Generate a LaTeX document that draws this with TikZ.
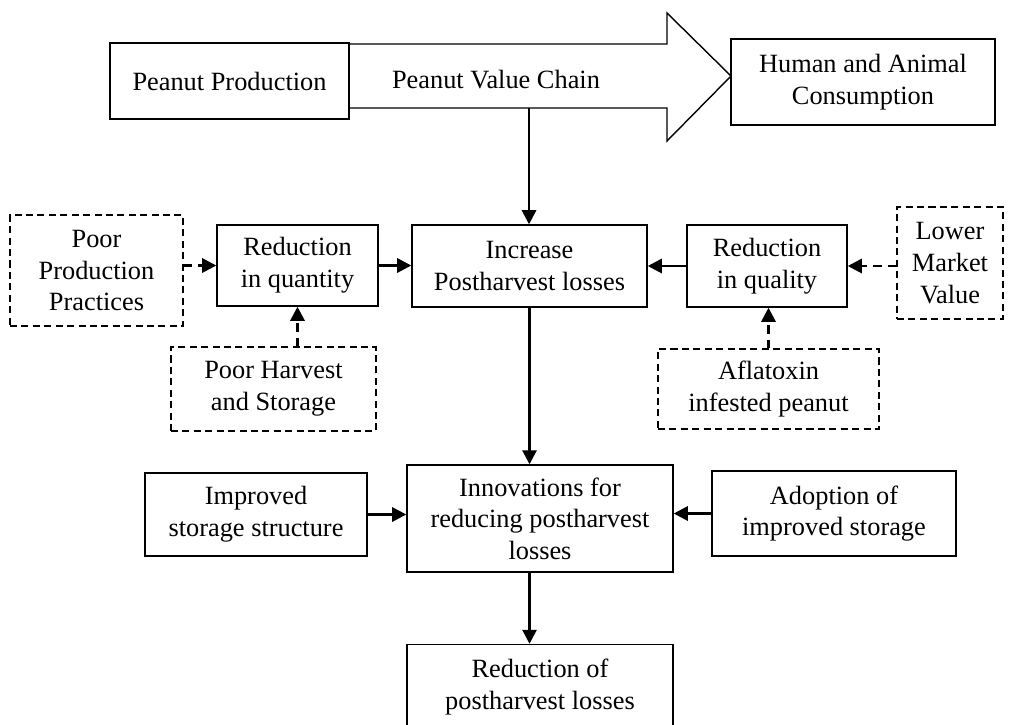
\documentclass[tikz,border=0pt]{standalone}
\usepackage{fontspec}
\setmainfont{Liberation Serif}
\usetikzlibrary{arrows.meta}
\def\pxu{0.02cm}
\tikzset{
  box/.style={draw, line width=0.8pt, inner sep=0pt, align=center},
  dbox/.style={draw, line width=0.6pt, dash pattern=on 4pt off 2.5pt, inner sep=0pt, align=center},
  wh/.style 2 args={minimum width=#1*\pxu, minimum height=#2*\pxu},
  flow/.style={line width=1.5pt, -{Triangle[length=8pt,width=8pt]}},
  dflow/.style={flow, dash pattern=on 5pt off 3.5pt},
}
\begin{document}
\begin{tikzpicture}[x=\pxu, y=-\pxu, font=\fontsize{15}{18}\selectfont]
 \useasboundingbox (0,0) rectangle (1013,724);
 \clip (0,0) rectangle (1013,724);
 \node[box, wh={239}{76}] (prod) at (229.5,81) {Peanut Production};
 \draw[line width=0.8pt] (prod.east |- 0,44) -- (667,44) -- (667,13) -- (731,76) -- (667,141) -- (667,108) -- (prod.east |- 0,108);
 \node (chain) at (496,80) {Peanut Value Chain};
 \node[box, wh={264}{86}] (cons) at (863,82) {Human and Animal\\Consumption};
 \coordinate (chainfoot) at (529,108);
 \node[box, wh={235}{82}] (incr) at (529.5,266) {Increase\\Postharvest losses};
 \node[box, wh={161}{81}] (redqty) at (297.5,265.5) {Reduction\\in quantity};
 \node[box, wh={160}{82}] (redqual) at (767,266) {Reduction\\in quality};
 \node[dbox, wh={173}{111}] (poorprod) at (96.5,270.5) {Poor\\Production\\Practices};
 \node[dbox, wh={106}{112}] (lowmkt) at (950,263) {Lower\\Market\\Value};
 \node[dbox, wh={205}{84}] (poorharv) at (273.5,389) {Poor Harvest\\and Storage};
 \node[dbox, wh={221}{80}] (aflat) at (768.5,389) {Aflatoxin\\infested peanut};
 \node[box, wh={222}{83}] (impstore) at (256,514.5) {Improved\\storage structure};
 \node[box, wh={266}{107}] (innov) at (540,518.5) {Innovations for\\reducing postharvest\\losses};
 \node[box, wh={244}{85}] (adopt) at (834,513.5) {Adoption of\\improved storage};
 \node[box, wh={266}{85}] (redloss) at (540,687) {Reduction of\\postharvest losses};
 % connectors
 \draw[flow] (chainfoot) -- (incr.north -| chainfoot);
 \draw[flow] (redqty.east) -- (incr.west |- redqty.east);
 \draw[flow] (redqual.west) -- (incr.east |- redqual.west);
 \draw[dflow] (poorprod.east |- redqty.west) -- (redqty.west);
 \draw[dflow] (lowmkt.west |- redqual.east) -- (redqual.east);
 \draw[dflow] (redqty.south |- poorharv.north) -- (redqty.south);
 \draw[dflow] (aflat.north) -- (aflat.north |- redqual.south);
 \draw[flow] (incr.south) -- (incr.south |- innov.north);
 \draw[flow] (impstore.east) -- (innov.west |- impstore.east);
 \draw[flow] (adopt.west) -- (innov.east |- adopt.west);
 \draw[flow] (innov.south -| incr.south) -- (redloss.north -| incr.south);
\end{tikzpicture}
\end{document}
